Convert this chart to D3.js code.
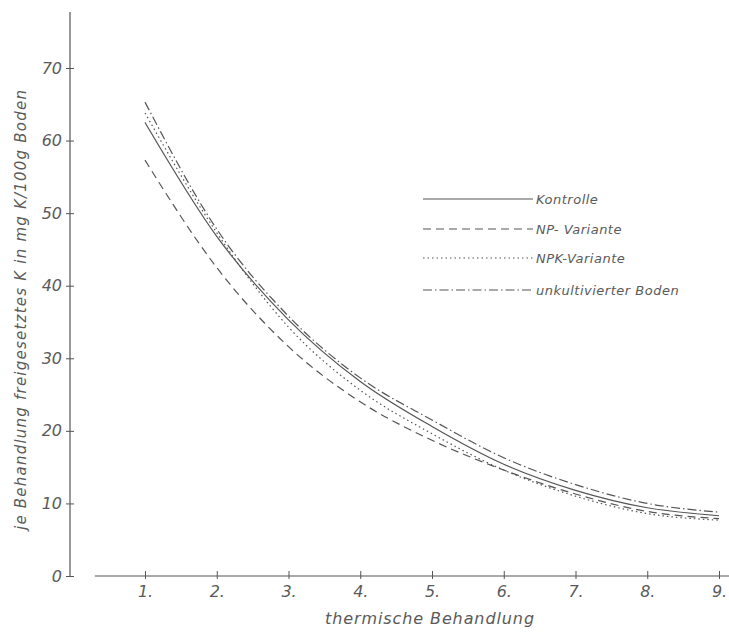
<!DOCTYPE html>
<html>
<head>
<meta charset="utf-8">
<script src="https://cdn.jsdelivr.net/npm/d3@7"></script>
<style>
  body { margin: 0; background: #fff; }
  text { font-family: "DejaVu Sans", sans-serif; font-style: italic; fill: #5a5a5a; }
</style>
</head>
<body>
<div id="chart"></div>
<script>
const treatments = [1, 2, 3, 4, 5, 6, 7, 8, 9]
const yTicks = [0, 10, 20, 30, 40, 50, 60, 70]

const kontrolle = [62.5, 46.8, 35.3, 26.8, 20.6, 15.4, 11.8, 9.4, 8.3]
const npVariante = [57.3, 42.5, 31.6, 24.0, 18.7, 14.6, 11.3, 8.9, 7.9]
const npkVariante = [63.8, 47.3, 34.3, 25.6, 19.6, 14.6, 11.0, 8.6, 7.7]
const unkultiviert = [65.3, 47.8, 35.8, 27.3, 21.5, 16.3, 12.6, 10.0, 8.8]

const seriesNames = ['Kontrolle', 'NP- Variante', 'NPK-Variante', 'unkultivierter Boden']
const seriesValues = [kontrolle, npVariante, npkVariante, unkultiviert]
const dashes = [null, '8,5', '1.5,3', '9,3,1.5,3']

const W = 729
const H = 632
const ink = '#555'

const svg = d3.select('#chart').append('svg').attr('width', W).attr('height', H)

const x = d3.scaleLinear([1, 9], [145, 719])
const y = d3.scaleLinear([0, 70], [576, 68])

// y axis: line runs above the last tick
svg.append('line')
  .attr('x1', 70).attr('x2', 70)
  .attr('y1', y(0)).attr('y2', y(77.7))
  .attr('stroke', ink).attr('stroke-width', 1.2)

const yAxis = svg.append('g')
  .attr('transform', 'translate(70,0)')
  .call(d3.axisLeft(y).tickValues(yTicks).tickSize(4).tickPadding(4))
yAxis.select('.domain').remove()
yAxis.selectAll('.tick line').attr('x1', 4).attr('stroke', ink)
yAxis.selectAll('.tick text').attr('font-size', 16).attr('fill', '#5a5a5a')
  .attr('font-family', 'DejaVu Sans').attr('font-style', 'italic')

// x axis: detached line starting right of the y axis
svg.append('line')
  .attr('x1', x(0.3)).attr('x2', x(9.15))
  .attr('y1', y(0)).attr('y2', y(0))
  .attr('stroke', ink).attr('stroke-width', 1.2)

const xAxis = svg.append('g')
  .attr('transform', `translate(0,${y(0)})`)
  .call(d3.axisBottom(x).tickValues(treatments).tickSize(3).tickPadding(7)
    .tickFormat((d) => d + '.'))
xAxis.select('.domain').remove()
xAxis.selectAll('.tick line').attr('y1', -5).attr('stroke', ink)
xAxis.selectAll('.tick text').attr('font-size', 16).attr('fill', '#5a5a5a')
  .attr('font-family', 'DejaVu Sans').attr('font-style', 'italic')

svg.append('text')
  .attr('x', 430).attr('y', 624)
  .attr('text-anchor', 'middle')
  .attr('font-size', 16)
  .attr('letter-spacing', 0.9)
  .text('thermische Behandlung')

svg.append('text')
  .attr('transform', 'translate(26,310) rotate(-90)')
  .attr('text-anchor', 'middle')
  .attr('font-size', 15)
  .attr('textLength', 440)
  .attr('lengthAdjust', 'spacing')
  .text('je Behandlung freigesetztes K in mg K/100g Boden')

const line = d3.line()
  .x((d, i) => x(treatments[i]))
  .y((d) => y(d))
  .curve(d3.curveMonotoneX)

svg.selectAll('path.series')
  .data(seriesValues)
  .enter()
  .append('path')
  .attr('class', 'series')
  .attr('d', line)
  .attr('fill', 'none')
  .attr('stroke', ink)
  .attr('stroke-width', 1.2)
  .attr('stroke-dasharray', (d, i) => dashes[i])

const legendY = [199, 229, 258, 290]
const legend = svg.selectAll('g.legend')
  .data(seriesNames)
  .enter()
  .append('g')
  .attr('class', 'legend')
  .attr('transform', (d, i) => `translate(423,${legendY[i]})`)

legend.append('line')
  .attr('x1', 0).attr('x2', 110)
  .attr('stroke', ink).attr('stroke-width', 1.2)
  .attr('stroke-dasharray', (d, i) => dashes[i])

legend.append('text')
  .attr('x', 113).attr('y', 5)
  .attr('font-size', 13)
  .attr('letter-spacing', 0.5)
  .text((d) => d)
</script>
</body>
</html>
